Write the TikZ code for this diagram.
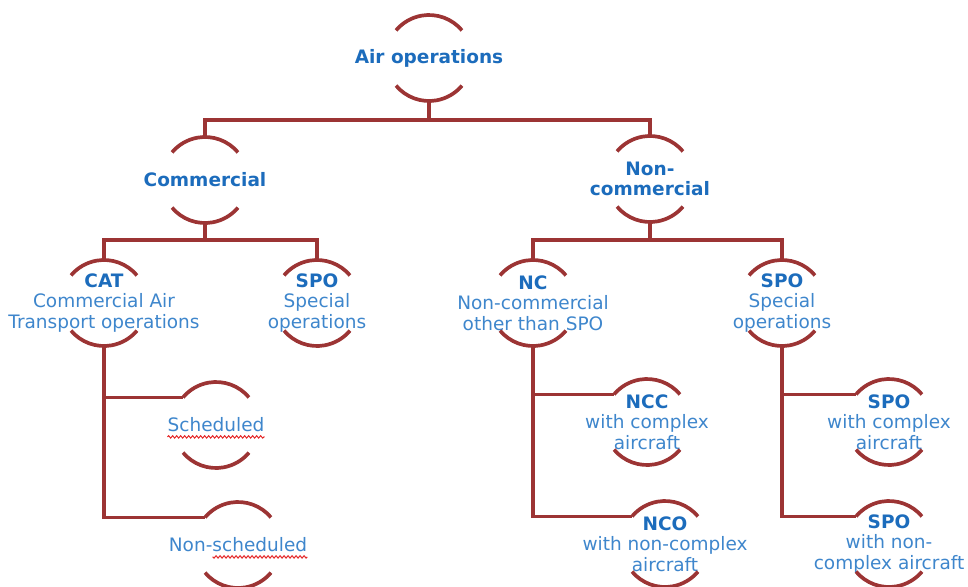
\documentclass[tikz,border=0pt]{standalone}
\usepackage{fontspec}
\setmainfont{DejaVu Sans}
\usetikzlibrary{calc,decorations.pathmorphing}
\definecolor{opsred}{RGB}{156,52,52}
\definecolor{opsblue}{RGB}{28,108,188}
\definecolor{opslight}{RGB}{62,134,204}
\definecolor{spellred}{RGB}{228,40,40}
\newcommand{\ringr}{43}
\newlength{\wordw}
\AtBeginDocument{\settowidth{\wordw}{\fontsize{18.5}{20.5}\selectfont scheduled}}

\tikzset{
  wire/.style={draw=opsred, line width=3.7pt},
  ring/.style={draw=opsred, line width=3.7pt},
  head/.style={align=center, inner sep=0pt, font=\fontsize{18.5}{20.5}\selectfont\bfseries, text=opsblue},
  opstext/.style={align=center, inner sep=0pt, font=\fontsize{18.5}{20.5}\selectfont, text=opslight},
  squiggle/.style={draw=spellred, line width=1pt, decorate, decoration={snake, amplitude=1.2pt, segment length=4pt}}
}

% top and bottom arc of one ring, plus the points the wires attach to
\newcommand{\ringset}[1]{%
  \draw[ring] ($(#1.center)+(40:\ringr)$) arc[start angle=40, end angle=140, radius=\ringr pt];
  \draw[ring] ($(#1.center)+(220:\ringr)$) arc[start angle=220, end angle=320, radius=\ringr pt];
  \coordinate (#1-t) at ($(#1.center)+(0,\ringr)$);
  \coordinate (#1-b) at ($(#1.center)+(0,-\ringr)$);
  \coordinate (#1-l) at ($(#1.center)+(140:\ringr)$);
}

\begin{document}
\begin{tikzpicture}[x=1pt, y=1pt]
  \useasboundingbox (0,0) rectangle (968,-586);

  % Level 1
  \node[head] (air) at (429,-58) {Air operations};
  % Level 2
  \node[head] (comm) at (205,-180) {Commercial};
  \node[head] (noncomm) at (650,-179) {Non-\\commercial};
  % Level 3
  \node[opstext] (cat) at (104,-303) {\textbf{\textcolor{opsblue}{CAT}}\\Commercial Air\\Transport operations};
  \node[opstext] (spoA) at (317,-303) {\textbf{\textcolor{opsblue}{SPO}}\\Special\\operations};
  \node[opstext] (nc) at (533,-303) {\textbf{\textcolor{opsblue}{NC}}\\Non-commercial\\other than SPO};
  \node[opstext] (spoB) at (782,-303) {\textbf{\textcolor{opsblue}{SPO}}\\Special\\operations};
  % Level 4
  \node[opstext] (sched) at (216,-425) {Scheduled};
  \node[opstext] (nonsched) at (238,-545) {Non-scheduled};
  \node[opstext] (ncc) at (647,-422) {\textbf{\textcolor{opsblue}{NCC}}\\with complex\\aircraft};
  \node[opstext] (nco) at (665,-544) {\textbf{\textcolor{opsblue}{NCO}}\\with non-complex\\aircraft};
  \node[opstext] (spoC) at (889,-422) {\textbf{\textcolor{opsblue}{SPO}}\\with complex\\aircraft};
  \node[opstext] (spoD) at (889,-544) {\textbf{\textcolor{opsblue}{SPO}}\\with non-\\complex aircraft};

  % rings
  \foreach \n in {air,comm,noncomm,cat,spoA,nc,spoB,sched,nonsched,ncc,nco,spoC,spoD}
    {\ringset{\n}}

  % spell-check marks
  \draw[squiggle] ([yshift=-5pt]sched.base west) -- ([yshift=-5pt]sched.base east);
  \draw[squiggle] ([yshift=-5pt]nonsched.base east) -- ++(-\wordw,0);

  % wires
  \draw[wire] (air-b) -- ++(0,-19) coordinate (bus1);
  \draw[wire] (comm-t) |- (bus1) -| (noncomm-t);
  \draw[wire] (comm-b) -- ++(0,-17) coordinate (bus2);
  \draw[wire] (cat-t) |- (bus2) -| (spoA-t);
  \draw[wire] (noncomm-b) -- ++(0,-18) coordinate (bus3);
  \draw[wire] (nc-t) |- (bus3) -| (spoB-t);
  \draw[wire] (cat-b) |- (nonsched-l);
  \draw[wire] (cat-b |- sched-l) -- (sched-l);
  \draw[wire] (nc-b) |- (nco-l);
  \draw[wire] (nc-b |- ncc-l) -- (ncc-l);
  \draw[wire] (spoB-b) |- (spoD-l);
  \draw[wire] (spoB-b |- spoC-l) -- (spoC-l);
\end{tikzpicture}
\end{document}
